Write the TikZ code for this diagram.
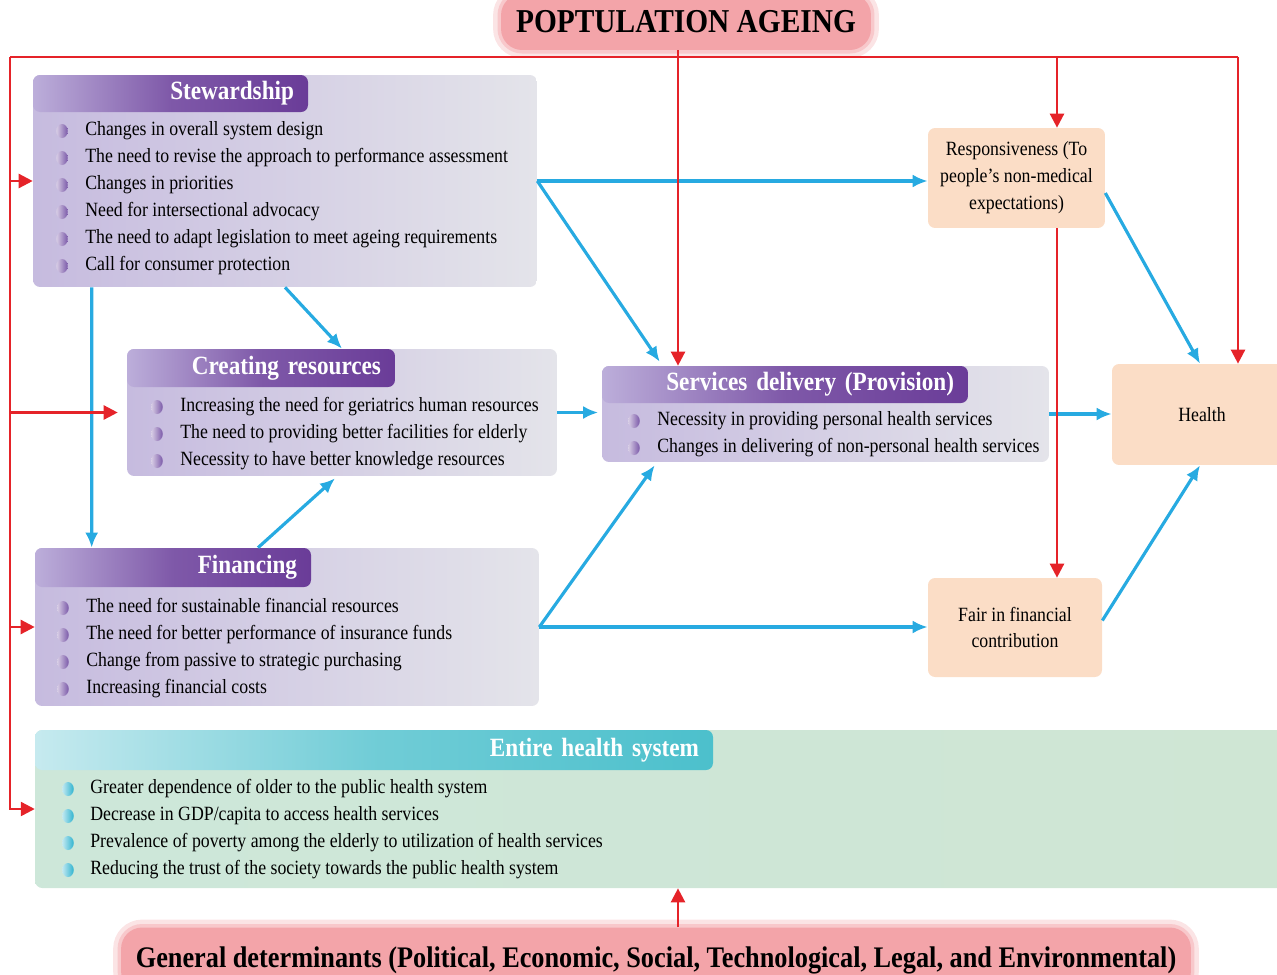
\documentclass[tikz,border=0pt]{standalone}
\usepackage{fontspec}
\setmainfont{Liberation Serif}[FakeStretch=0.88]
\usetikzlibrary{arrows.meta,positioning}
\definecolor{agered}{HTML}{E52329}
\definecolor{ageblue}{HTML}{27AAE1}
\definecolor{agepink}{HTML}{F3A4A9}
\definecolor{agepeach}{HTML}{FBDDC6}
\definecolor{agelav}{HTML}{C6BBDF}
\definecolor{agegray}{HTML}{E4E4EA}
\definecolor{agelilac}{HTML}{BCAEDA}
\definecolor{agepurple}{HTML}{6A3C98}
\definecolor{agebulp}{HTML}{7A58A8}
\definecolor{ageaqua}{HTML}{C6EAEF}
\definecolor{ageteal}{HTML}{4CC0CC}
\definecolor{agemint}{HTML}{CFE6D4}
\definecolor{agebulc}{HTML}{2FB3CF}

\begin{document}
\begin{tikzpicture}[
  x=0.02cm,y=-0.02cm,
  panel/.style={rounded corners=4pt,left color=agelav,right color=agegray,inner sep=0pt},
  tab/.style={rounded corners=4pt,left color=agelilac,right color=agepurple,middle color=agepurple!75!agelilac,anchor=north west,align=right,inner xsep=0.28cm,inner ysep=0pt,minimum height=0.74cm,text=white,font=\fontsize{15}{17}\selectfont\bfseries},
  item/.style={anchor=west,inner sep=0pt,text height=7.5pt,text depth=2.5pt,font=\fontsize{11.5}{13}\selectfont},
  peach/.style={rounded corners=4pt,fill=agepeach,align=center,inner sep=0pt,font=\fontsize{11.5}{15.3}\selectfont},
  blob/.style={fill=agepink,rounded corners=12pt,preaction={draw=agepink!30,line width=9pt,rounded corners=12pt},preaction={draw=agepink!60,line width=4pt,rounded corners=12pt}},
  arr/.style={-{Latex[length=3mm,width=2.6mm]},line width=1.8pt,draw=ageblue},
  redarr/.style={-{Triangle[length=2.8mm,width=2.8mm]},line width=1.4pt,draw=agered},
  redline/.style={line width=1.4pt,draw=agered},
  pbul/.pic={\shade[left color=agebulp!30,right color=agebulp] (0,0) ellipse (0.115cm and 0.14cm);},
  cbul/.pic={\shade[left color=agebulc!30,right color=agebulc] (0,0) ellipse (0.115cm and 0.14cm);}
]
\useasboundingbox (0,0) rectangle (1277,974);

% headings
\node[blob,minimum width=7.4cm,minimum height=1.12cm,font=\fontsize{19}{21}\selectfont\bfseries] (ageing) at (686,22) {POPTULATION AGEING};
\node[blob,minimum width=21.4cm,minimum height=1.3cm,font=\fontsize{17}{19}\selectfont\bfseries] (gen) at (656,960) {General determinants (Political, Economic, Social, Technological, Legal, and Environmental)};

% stewardship
\node[panel,minimum width=10.08cm,minimum height=4.24cm] (stew) at (285,181) {};
\node[tab,text width=4.94cm] (stewhead) at (stew.north west) {Stewardship};
\foreach \txt [count=\i] in {Changes in overall system design,The need to revise the approach to performance assessment,Changes in priorities,Need for intersectional advocacy,The need to adapt legislation to meet ageing requirements,Call for consumer protection}{
  \node[item] (stew\i) at (85,{104+27*\i}) {\txt};
  \pic at ([xshift=-0.46cm]stew\i.west) {pbul};
}

% creating resources
\node[panel,minimum width=8.6cm,minimum height=2.54cm] (cres) at (342,412.5) {};
\node[tab,text width=4.8cm,minimum height=0.76cm] (creshead) at (cres.north west) {Creating resources};
\foreach \txt [count=\i] in {Increasing the need for geriatrics human resources,The need to providing better facilities for elderly,Necessity to have better knowledge resources}{
  \node[item] (cres\i) at (180,{380+27*\i}) {\txt};
  \pic at ([xshift=-0.46cm]cres\i.west) {pbul};
}

% financing
\node[panel,minimum width=10.08cm,minimum height=3.16cm] (fin) at (287,627) {};
\node[tab,text width=4.96cm,minimum height=0.78cm] (finhead) at (fin.north west) {Financing};
\foreach \txt [count=\i] in {The need for sustainable financial resources,The need for better performance of insurance funds,Change from passive to strategic purchasing,Increasing financial costs}{
  \node[item] (fin\i) at (86,{581+27*\i}) {\txt};
  \pic at ([xshift=-0.46cm]fin\i.west) {pbul};
}

% services delivery
\node[panel,minimum width=8.94cm,minimum height=1.92cm] (serv) at (825.5,414) {};
\node[tab,text width=6.76cm] (servhead) at (serv.north west) {Services delivery (Provision)};
\foreach \txt [count=\i] in {Necessity in providing personal health services,Changes in delivering of non-personal health services}{
  \node[item] (serv\i) at (657,{394+27*\i}) {\txt};
  \pic at ([xshift=-0.46cm]serv\i.west) {pbul};
}

% entire health system
\node[panel,left color=agemint!80!ageaqua,right color=agemint,minimum width=25.1cm,minimum height=3.16cm] (ent) at (662.5,809) {};
\node[tab,left color=ageaqua,right color=ageteal,middle color=ageteal!70!ageaqua,text width=13cm,minimum height=0.8cm] (enthead) at (ent.north west) {Entire health system};
\foreach \txt [count=\i] in {Greater dependence of older to the public health system,Decrease in GDP/capita to access health services,Prevalence of poverty among the elderly to utilization of health services,Reducing the trust of the society towards the public health system}{
  \node[item] (ent\i) at (90,{762+27*\i}) {\txt};
  \pic at ([xshift=-0.44cm]ent\i.west) {cbul};
}

% outcomes
\node[peach,minimum width=3.54cm,minimum height=2cm] (resp) at (1016.5,178) {Responsiveness (To\\people's non-medical\\expectations)};
\node[peach,minimum width=3.6cm,minimum height=2.02cm] (health) at (1202,414.5) {Health};
\node[peach,minimum width=3.48cm,minimum height=1.98cm] (fair) at (1015,627.5) {Fair in financial\\contribution};

% blue links
\draw[arr] (stew.east) -- (stew.east -| resp.west);
\draw[arr] (stew.east) -- ([xshift=1.16cm,yshift=0.08cm]serv.north west);
\draw[arr] (stew.south) -- (cres.north);
\draw[arr] ([xshift=1.18cm]stew.south west) -- ([xshift=1.14cm]fin.north west);
\draw[arr] ([xshift=-0.58cm]fin.north) -- ([xshift=-0.14cm,yshift=-0.04cm]cres.south);
\draw[arr,shorten >=2pt] (cres.east) -- (cres.east -| serv.west);
\draw[arr] (fin.east) -- (fin.east -| fair.west);
\draw[arr] (fin.east) -- ([xshift=1.06cm,yshift=-0.06cm]serv.south west);
\draw[arr] (serv.east) -- (serv.east -| health.west);
\draw[arr] ([yshift=-0.3cm]resp.east) -- ([xshift=-0.04cm]health.north);
\draw[arr] ([yshift=0.14cm]fair.east) -- ([xshift=-0.04cm]health.south);

% red links
\coordinate (frameL) at (10,57);
\coordinate (frameR) at (1238,57);
\coordinate (agein) at ([xshift=-0.16cm]ageing.south);
\coordinate (respin) at ([xshift=0.81cm]resp.north);
\coordinate (respout) at ([xshift=0.81cm]resp.south);
\coordinate (genout) at ([xshift=0.44cm]gen.north);
\draw[redline] (frameL) -- (frameR);
\draw[redarr] (frameL) |- (ent.west);
\draw[redarr] (frameL |- stew.west) -- (stew.west);
\draw[redarr,shorten >=0.18cm] (frameL |- cres.west) -- (cres.west);
\draw[redarr] (frameL |- fin.west) -- (fin.west);
\draw[redarr] (agein) -- (agein |- serv.north);
\draw[redarr] (respin |- frameL) -- (respin);
\draw[redarr] (respout) -- (respout |- fair.north);
\draw[redarr] (frameR) -- (frameR |- health.north);
\draw[redarr] (genout) -- (genout |- ent.south);
\end{tikzpicture}
\end{document}
